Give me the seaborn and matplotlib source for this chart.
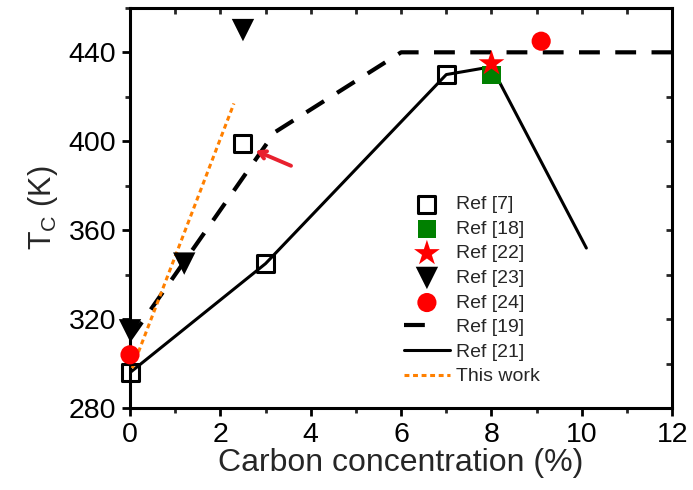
import matplotlib
matplotlib.use("Agg")
import matplotlib.pyplot as plt
import seaborn as sns
import pandas as pd
from matplotlib.lines import Line2D
from matplotlib.ticker import MultipleLocator

# ---- data ----
ref7_x = [0, 2.5, 3, 7]
ref7_y = [296, 399, 345, 430]
ref18_x = [8]
ref18_y = [430]
ref22_x = [8]
ref22_y = [435]
ref23_x = [0, 1.2, 2.5]
ref23_y = [315, 345, 450]
ref24_x = [0, 9.1]
ref24_y = [304, 445]
ref19_x = [0, 3.2, 6, 12]
ref19_y = [311, 404, 440, 440]
ref21_x = [0, 3, 7, 8, 10.1]
ref21_y = [296, 345, 430, 433.5, 352]
work_x = [0.05, 2.3]
work_y = [298, 417]

sns.set_style("ticks")
plt.rcParams['font.family'] = ['Liberation Sans', 'DejaVu Sans']
plt.rcParams['mathtext.fontset'] = 'custom'
plt.rcParams['mathtext.rm'] = 'Liberation Sans'
plt.rcParams['mathtext.it'] = 'Liberation Sans'

fig = plt.figure(figsize=(6.93, 4.90), dpi=100)
ax = fig.add_axes([0.1876, 0.167, 0.7824, 0.817])

sns.lineplot(x=ref19_x, y=ref19_y, ax=ax, color='black', lw=3,
             linestyle=(0, (5, 3.7)), label='Ref [19]', sort=False, zorder=2)
sns.lineplot(x=ref21_x, y=ref21_y, ax=ax, color='black', lw=2.2,
             label='Ref [21]', sort=False, zorder=2)
sns.lineplot(x=work_x, y=work_y, ax=ax, color='#ff8000', lw=2.2,
             linestyle=(0, (1.6, 1.2)), label='This work', sort=False, zorder=3)

sc_kw = dict(ax=ax, clip_on=False)
sns.scatterplot(x=ref7_x, y=ref7_y, marker='s', s=150,
                facecolor='none', edgecolor='black', linewidth=2.2,
                label='Ref [7]', zorder=4, **sc_kw)
sns.scatterplot(x=ref18_x, y=ref18_y, marker='s', s=170,
                color='#008000', edgecolor='none', linewidth=0,
                label='Ref [18]', zorder=4, **sc_kw)
sns.scatterplot(x=ref22_x, y=ref22_y, marker='*', s=380,
                color='#ff0000', edgecolor='none', linewidth=0,
                label='Ref [22]', zorder=5, **sc_kw)
sns.scatterplot(x=ref23_x, y=ref23_y, marker='v', s=260,
                color='black', edgecolor='none', linewidth=0,
                label='Ref [23]', zorder=4, **sc_kw)
sns.scatterplot(x=ref24_x, y=ref24_y, marker='o', s=190,
                color='#ff0000', edgecolor='none', linewidth=0,
                label='Ref [24]', zorder=5, **sc_kw)

ax.annotate('', xy=(2.72, 396.3), xytext=(3.62, 388.5),
            arrowprops=dict(arrowstyle='->,head_length=0.5,head_width=0.28',
                            color='#e8212e', lw=2.8))

ax.set_xlim(0, 12)
ax.set_ylim(280, 460)
ax.xaxis.set_major_locator(MultipleLocator(2))
ax.xaxis.set_minor_locator(MultipleLocator(1))
ax.yaxis.set_minor_locator(MultipleLocator(20))
ax.set_yticks([280, 320, 360, 400, 440])

for sp in ax.spines.values():
    sp.set_visible(True)
    sp.set_linewidth(2.2)
    sp.set_color('black')

ax.tick_params(which='major', direction='out', length=6, width=2,
               labelsize=20.5, top=False, right=False, colors='black', pad=4)
ax.tick_params(which='minor', direction='out', length=3.5, width=2,
               top=False, right=False)

secx = ax.secondary_xaxis('top')
secx.xaxis.set_major_locator(MultipleLocator(1))
secx.tick_params(which='major', direction='in', length=4, width=2, labeltop=False)
secx.spines['top'].set_visible(False)
secy = ax.secondary_yaxis('right')
secy.yaxis.set_major_locator(MultipleLocator(20))
secy.tick_params(which='major', direction='in', length=4, width=2, labelright=False)
secy.spines['right'].set_visible(False)

ax.set_xlabel('Carbon concentration (%)', fontsize=23, labelpad=0)
ax.set_ylabel('T$_\\mathrm{C}$ (K)', fontsize=22, labelpad=6)

handles, labels = ax.get_legend_handles_labels()
order = ['Ref [7]', 'Ref [18]', 'Ref [22]', 'Ref [23]', 'Ref [24]',
         'Ref [19]', 'Ref [21]', 'This work']
hmap = dict(zip(labels, handles))
hmap['Ref [19]'] = Line2D([], [], color='black', lw=3, linestyle=(0, (5, 20)))
ax.legend([hmap[l] for l in order], order, loc='upper left',
          bbox_to_anchor=(0.48, 0.565), frameon=False, fontsize=14,
          handlelength=2.37, handletextpad=0.3, labelspacing=0.36,
          borderpad=0.2)

fig.savefig('out.png', dpi=100)
